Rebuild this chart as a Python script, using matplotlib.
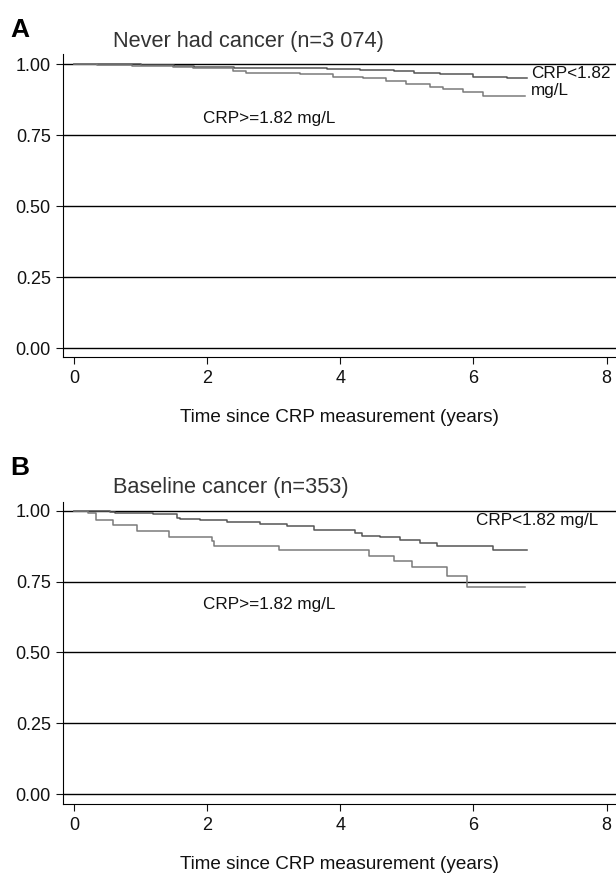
import numpy as np
import matplotlib
matplotlib.use("Agg")
import matplotlib.pyplot as plt

plt.rcParams['font.family'] = ['Liberation Sans', 'DejaVu Sans']

# Panel A: never had cancer
a_low_t = [0, 1.0, 1.5, 1.8, 2.4, 2.9, 3.8, 4.3, 4.8, 5.1, 5.5, 6.0, 6.5, 6.8]
a_low_s = [1.0, 0.998, 0.993, 0.991, 0.988, 0.986, 0.982, 0.980, 0.976, 0.970, 0.965, 0.955, 0.952, 0.952]
a_high_t = [0, 0.34, 0.87, 1.49, 1.79, 2.39, 2.59, 3.39, 3.89, 4.34, 4.69, 4.99, 5.34, 5.54, 5.84, 6.14, 6.77]
a_high_s = [1.0, 0.998, 0.994, 0.991, 0.985, 0.976, 0.970, 0.965, 0.955, 0.950, 0.941, 0.929, 0.921, 0.912, 0.902, 0.888, 0.888]

# Panel B: baseline cancer
b_low_t = [0, 0.54, 0.62, 1.19, 1.54, 1.6, 1.9, 2.3, 2.8, 3.2, 3.6, 4.22, 4.32, 4.6, 4.9, 5.2, 5.45, 6.3, 6.8]
b_low_s = [1.0, 0.994, 0.991, 0.988, 0.974, 0.970, 0.966, 0.961, 0.954, 0.945, 0.933, 0.921, 0.912, 0.907, 0.897, 0.885, 0.877, 0.863, 0.863]
b_high_t = [0, 0.21, 0.33, 0.59, 0.95, 1.43, 2.07, 2.10, 3.08, 4.43, 4.80, 5.07, 5.60, 5.90, 6.77]
b_high_s = [1.0, 0.992, 0.966, 0.950, 0.927, 0.909, 0.895, 0.876, 0.860, 0.841, 0.824, 0.802, 0.771, 0.730, 0.730]

yticks = [0.0, 0.25, 0.5, 0.75, 1.0]
xticks = [0, 2, 4, 6, 8]

W, H = 616, 876
fig = plt.figure(figsize=(W / 100, H / 100), dpi=100)


def make_panel(top_px, bot_px, ylo, yhi, low_t, low_s, high_t, high_s):
    ax = fig.add_axes([63.3 / W, 1 - bot_px / H, (W - 63.3) / W, (bot_px - top_px) / H])
    for y in yticks:
        ax.axhline(y, color="black", lw=1.0, zorder=1)
    ax.plot(low_t, low_s, drawstyle="steps-post", color="#555555", lw=1.1, zorder=3)
    ax.plot(high_t, high_s, drawstyle="steps-post", color="#7a7a7a", lw=1.1, zorder=3)
    ax.set_xlim(-0.16, 8.14)
    ax.set_ylim(ylo, yhi)
    ax.set_yticks(yticks)
    ax.set_yticklabels(["%.2f" % v for v in yticks])
    ax.set_xticks(xticks)
    ax.spines["top"].set_visible(False)
    ax.spines["right"].set_visible(False)
    ax.tick_params(direction="out", length=5, width=0.8, labelsize=13, pad=4, colors="#111111")
    ax.set_xlabel("Time since CRP measurement (years)", fontsize=13.6, labelpad=16, color="#111111")
    return ax


axA = make_panel(54, 357.3, -0.032, 1.036, a_low_t, a_low_s, a_high_t, a_high_s)
axB = make_panel(501.7, 804, -0.035, 1.032, b_low_t, b_low_s, b_high_t, b_high_s)


def px(x, y):
    return x / W, 1 - y / H


fig.text(*px(10, 30), "A", fontsize=19, fontweight="bold", va="center", ha="left")
fig.text(*px(113, 42), "Never had cancer (n=3 074)", fontsize=15.7, va="center", ha="left", color="#333333")
fig.text(*px(531, 73), "CRP<1.82", fontsize=12.3, va="center", ha="left", color="#111111")
fig.text(*px(531, 91), "mg/L", fontsize=12.3, va="center", ha="left", color="#111111")
fig.text(*px(203, 118), "CRP>=1.82 mg/L", fontsize=12.3, va="center", ha="left", color="#111111")

fig.text(*px(10, 468), "B", fontsize=19, fontweight="bold", va="center", ha="left")
fig.text(*px(113, 488), "Baseline cancer (n=353)", fontsize=15.7, va="center", ha="left", color="#333333")
fig.text(*px(476, 520), "CRP<1.82 mg/L", fontsize=12.3, va="center", ha="left", color="#111111")
fig.text(*px(203, 605), "CRP>=1.82 mg/L", fontsize=12.3, va="center", ha="left", color="#111111")

fig.savefig("out.png", dpi=100)
